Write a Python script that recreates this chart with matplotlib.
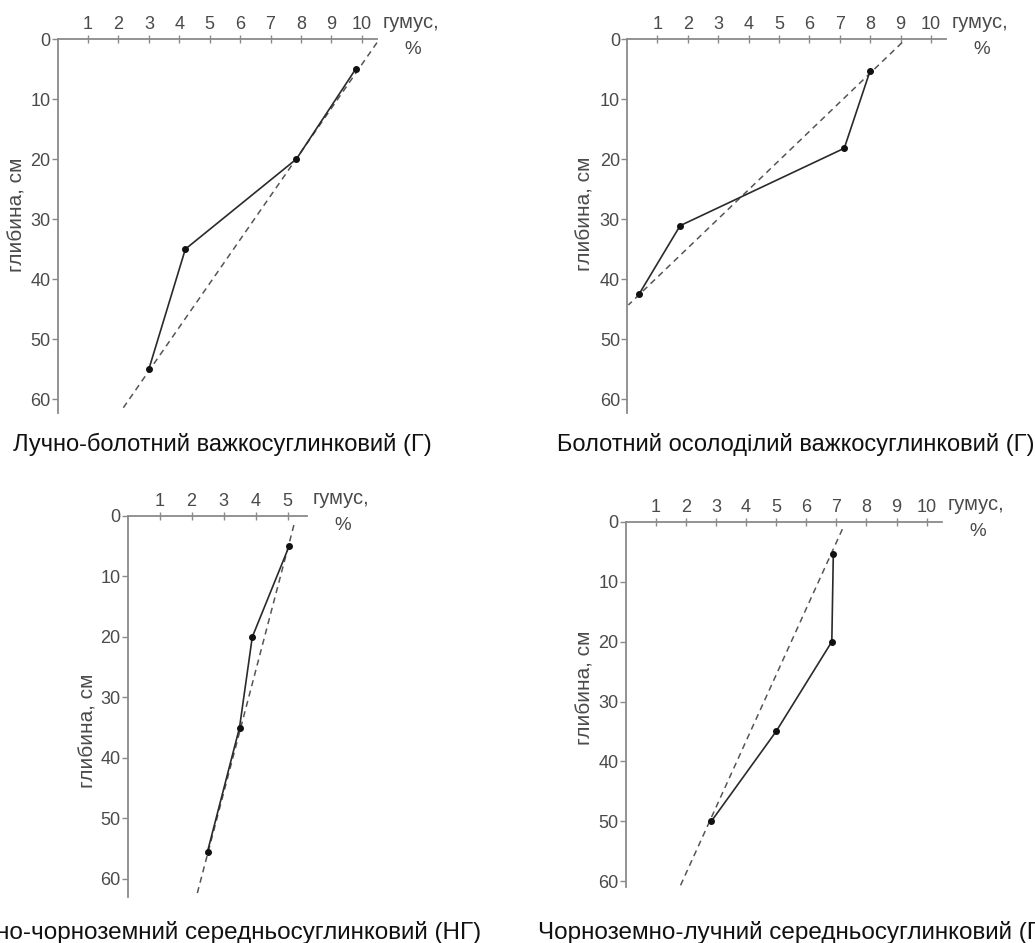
import matplotlib
matplotlib.use('Agg')
import matplotlib.pyplot as plt

plt.rcParams['font.family'] = ['Liberation Sans', 'DejaVu Sans']

# humus content (%) vs depth (cm) for each soil
titles = [
    'Лучно-болотний важкосуглинковий (Г)',
    'Болотний осолоділий важкосуглинковий (Г)',
    'Лучно-чорноземний середньосуглинковий (НГ)',
    'Чорноземно-лучний середньосуглинковий (Г)',
]

humus_1 = [9.8, 7.85, 4.2, 3.0]
depth_1 = [5, 20, 35, 55]
trend_x_1 = [10.5, 2.15]
trend_y_1 = [0.6, 61.5]

humus_2 = [8.0, 7.15, 1.75, 0.4]
depth_2 = [5.3, 18.2, 31.1, 42.5]
trend_x_2 = [9.05, 0.05]
trend_y_2 = [0.6, 44.3]

humus_3 = [5.05, 3.9, 3.5, 2.5]
depth_3 = [5, 20, 35, 55.5]
trend_x_3 = [5.2, 2.15]
trend_y_3 = [1.5, 63]

humus_4 = [6.9, 6.85, 5.0, 2.85]
depth_4 = [5.3, 20, 35, 50]
trend_x_4 = [7.2, 1.8]
trend_y_4 = [1.2, 61]

x_ticks_10 = [1, 2, 3, 4, 5, 6, 7, 8, 9, 10]
x_ticks_5 = [1, 2, 3, 4, 5]
y_ticks = [0, 10, 20, 30, 40, 50, 60]

W, H = 1035, 943
fig = plt.figure(figsize=(W / 100, H / 100), dpi=100)


def box(l, t, r, b):
    return [l / W, 1 - b / H, (r - l) / W, (b - t) / H]


panels = [
    (box(57.6, 39, 377, 413), humus_1, depth_1, trend_x_1, trend_y_1, 10.5, 62.3, x_ticks_10, (-0.096, 0.53)),
    (box(626.9, 39, 946.1, 413), humus_2, depth_2, trend_x_2, trend_y_2, 10.5, 62.3, x_ticks_10, (-0.10, 0.532)),
    (box(127.5, 516, 306.7, 897), humus_3, depth_3, trend_x_3, trend_y_3, 5.6, 63, x_ticks_5, (-0.168, 0.436)),
    (box(625.6, 522, 941.7, 887), humus_4, depth_4, trend_x_4, trend_y_4, 10.5, 61, x_ticks_10, (-0.097, 0.545)),
]

axis_col = '#8a8a8a'
text_col = '#4a4a4a'

for rect, hx, dy, tx, ty, xmax, ymax, xt, lab in panels:
    ax = fig.add_axes(rect)
    ax.plot(tx, ty, color='#555555', lw=1.1, ls=(0, (4, 3)), clip_on=False)
    ax.plot(hx, dy, color='#2a2a2a', lw=1.2, marker='o', ms=4, mfc='#111111', mec='#111111', clip_on=False)
    ax.set_xlim(0, xmax)
    ax.set_ylim(ymax, 0)
    ax.set_xticks(xt)
    ax.set_yticks(y_ticks)
    ax.xaxis.tick_top()
    for s in ['right', 'bottom']:
        ax.spines[s].set_visible(False)
    for s in ['left', 'top']:
        ax.spines[s].set_color(axis_col)
        ax.spines[s].set_linewidth(1.3)
    ax.tick_params(axis='x', direction='inout', length=6, width=1, color=axis_col,
                   labelsize=13, labelcolor=text_col, pad=1)
    ax.tick_params(axis='y', direction='out', length=4, width=1, color=axis_col,
                   labelsize=13, labelcolor=text_col, pad=1)
    ax.set_ylabel('глибина, см', fontsize=15, color=text_col)
    ax.yaxis.set_label_coords(lab[0], lab[1])
    ax.annotate('гумус,', xy=(1, 1), xycoords='axes fraction', xytext=(6, 17),
                textcoords='offset pixels', ha='left', va='center', fontsize=14.5, color=text_col)
    ax.annotate('%', xy=(1, 1), xycoords='axes fraction', xytext=(36, -10),
                textcoords='offset pixels', ha='center', va='center', fontsize=13.5, color=text_col)

fig.text(13 / W, 1 - 451 / H, titles[0], fontsize=17, ha='left', va='baseline', color='#111111')
fig.text(557 / W, 1 - 451 / H, titles[1], fontsize=17, ha='left', va='baseline', color='#111111')
fig.text(-45 / W, 1 - 939 / H, titles[2], fontsize=17.5, ha='left', va='baseline', color='#111111')
fig.text(538 / W, 1 - 939 / H, titles[3], fontsize=17.5, ha='left', va='baseline', color='#111111')

fig.savefig('out.png', dpi=100, facecolor='white')
